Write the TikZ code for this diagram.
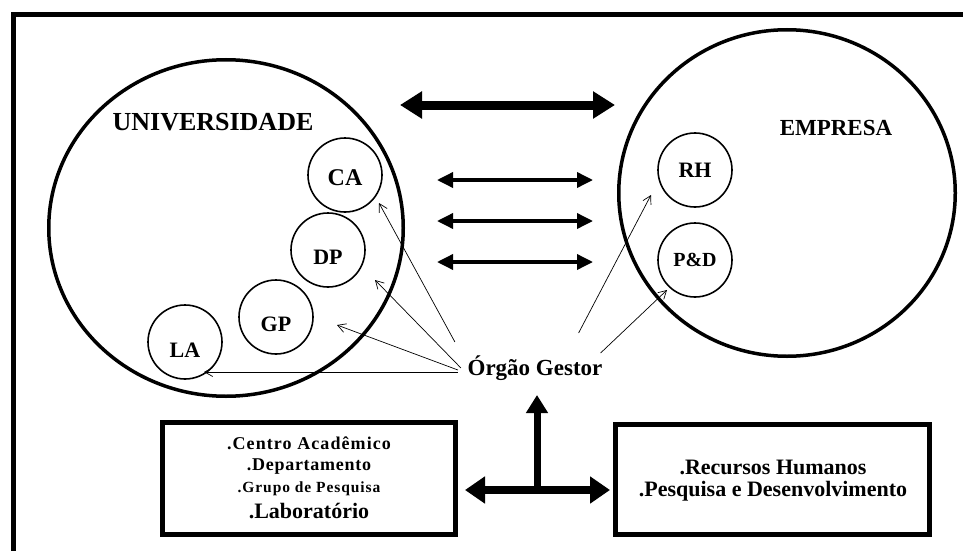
\documentclass[tikz,border=0pt]{standalone}
\usepackage{fontspec}
\setmainfont{Liberation Serif}
\usetikzlibrary{arrows.meta,shapes.geometric,calc}
\begin{document}
\begin{tikzpicture}[x=1pt,y=-1pt,
  bigcirc/.style={draw,ellipse,line width=3.5pt,inner sep=0pt},
  unit/.style={draw,circle,line width=1.6pt,inner sep=0pt,minimum size=74pt,
    font=\fontsize{22}{22}\selectfont\bfseries},
  % a taller text box pushes the label below the circle centre
  lowered/.style={text height=#1,text depth=0pt},
  title/.style={inner sep=0pt,font=\fontsize{26}{26}\selectfont\bfseries},
  heavy/.style={line width=9pt,{Triangle[length=22pt,width=26pt]}-{Triangle[length=22pt,width=26pt]}},
  medium/.style={line width=3.5pt,{Triangle[length=16pt,width=15pt]}-{Triangle[length=16pt,width=15pt]}},
  upward/.style={line width=7pt,-{Triangle[length=18pt,width=21pt]}},
  link/.style={line width=0.7pt,-{Straight Barb[length=8pt,width=9pt]}},
  panel/.style={draw,line width=5pt,inner sep=0pt},
  boxtext/.style={inner sep=0pt,anchor=center},
  ]
\useasboundingbox (0,0) rectangle (963,551);

% outer frame (left and top sides)
\draw[line width=4.5pt] (13.5,551) -- (13.5,14.5) -- (963,14.5);

% the two institutions
\node[bigcirc,minimum width=354.5pt,minimum height=336.5pt] (univ) at (226,228) {};
\node[bigcirc,minimum width=336.5pt,minimum height=326.5pt] (emp) at (787,193) {};
\node[title] (univlbl) at (213,122) {UNIVERSIDADE};
\node[title,font=\fontsize{23}{23}\selectfont\bfseries] (emplbl) at (836,128) {EMPRESA};

% internal units
\node[unit,lowered=21pt,font=\fontsize{24}{24}\selectfont\bfseries] (CA) at (345,175) {CA};
\node[unit,lowered=28pt] (DP) at (328,250) {DP};
\node[unit,lowered=28pt] (GP) at (276,317) {GP};
\node[unit,lowered=31pt] (LA) at (185,342) {LA};
\node[unit] (RH) at (695,170) {RH};
\node[unit,font=\fontsize{20}{20}\selectfont\bfseries] (PD) at (695,260) {P\&D};

% exchange arrows between university and company
\coordinate (h1) at (400,105);  \coordinate (h2) at (615,105);
\coordinate (m1a) at (437,180); \coordinate (m1b) at (593,180);
\coordinate (m2a) at (437,221); \coordinate (m2b) at (593,221);
\coordinate (m3a) at (437,262); \coordinate (m3b) at (593,262);
\draw[heavy] (h1) -- (h2);
\draw[medium] (m1a) -- (m1b);
\draw[medium] (m2a) -- (m2b);
\draw[medium] (m3a) -- (m3b);

% managing body and its links
\node[title,font=\fontsize{23}{23}\selectfont\bfseries] (og) at (535,368) {Órgão Gestor};
\coordinate (tCA) at (379,203);
\coordinate (tDP) at (375,280);
\coordinate (tGP) at (337,325);
\coordinate (tLA) at (204,372);
\coordinate (tRH) at (651,195);
\coordinate (tPD) at (667,290);
\draw[link] ([shift={(-12.5,-26)}]og.west) -- (tCA);
\draw[link] ([shift={(-6.5,0)}]og.west) -- (tDP);
\draw[link] ([shift={(-9.5,2)}]og.west) -- (tGP);
\draw[link] ([shift={(-9.5,4)}]og.west) -- (tLA);
\draw[link] ([shift={(-24,-35)}]og.east) -- (tRH);
\draw[link] ([shift={(-2,-15)}]og.east) -- (tPD);

% detail boxes
\node[panel,minimum width=293pt,minimum height=112pt] (ubox) at (309,478.5) {};
\node[panel,minimum width=314pt,minimum height=110pt] (ebox) at (772.5,479.5) {};

\node[boxtext,font=\fontsize{18}{18}\selectfont\bfseries\addfontfeature{LetterSpace=6}] (u1) at (309,443) {.Centro Acadêmico};
\node[boxtext,font=\fontsize{18}{18}\selectfont\bfseries\addfontfeature{LetterSpace=4}] (u2) at (309,467) {.Departamento};
\node[boxtext,font=\fontsize{15.5}{15.5}\selectfont\bfseries\addfontfeature{LetterSpace=6}] (u3) at (309,489) {.Grupo de Pesquisa};
\node[boxtext,font=\fontsize{22}{22}\selectfont\bfseries] (u4) at (309,511) {.Laboratório};

\node[boxtext,font=\fontsize{22}{22}\selectfont\bfseries] (e1) at (773,467) {.Recursos Humanos};
\node[boxtext,font=\fontsize{22}{22}\selectfont\bfseries] (e2) at (773,491) {.Pesquisa e Desenvolvimento};

% link between boxes and the managing body
\coordinate (jn) at (537,490);
\coordinate (up) at (537,395);
\coordinate (bl) at (465,490);
\coordinate (br) at (610,490);
\draw[heavy,line width=8pt,{Triangle[length=20pt,width=26pt]}-{Triangle[length=20pt,width=26pt]}] (bl) -- (br);
\draw[upward] ([yshift=3pt]jn) -- (up);
\end{tikzpicture}
\end{document}
